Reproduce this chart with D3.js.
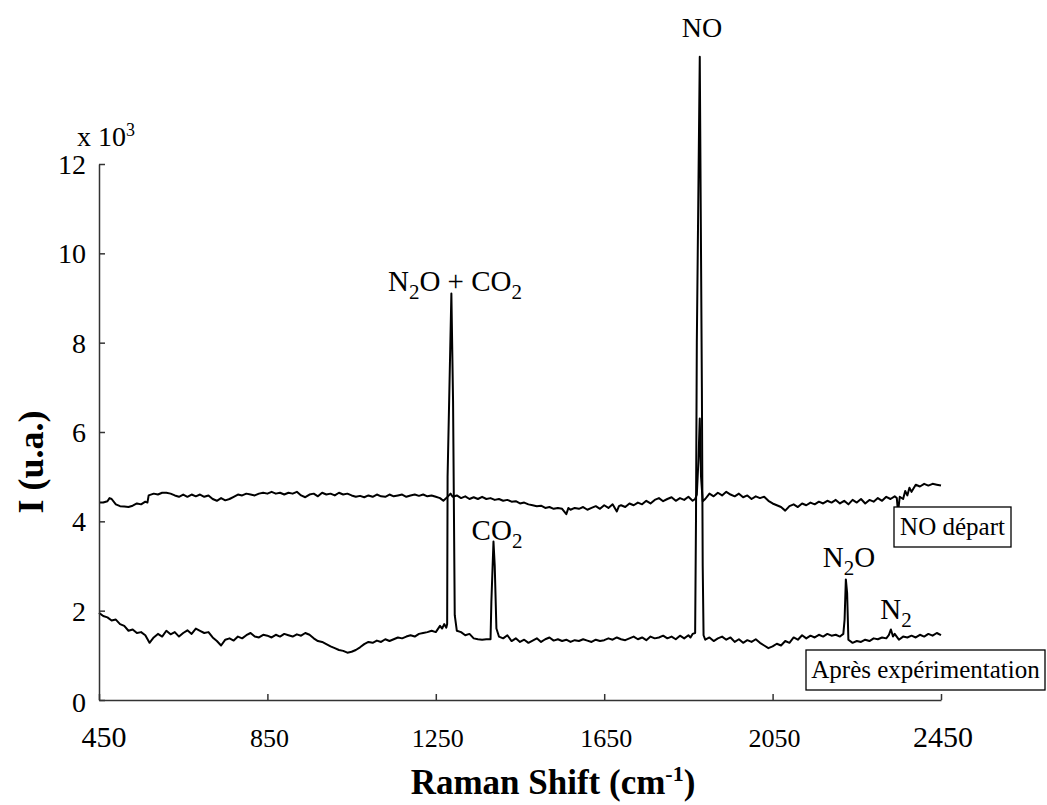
<!DOCTYPE html>
<html>
<head>
<meta charset="utf-8">
<script src="https://cdn.jsdelivr.net/npm/d3@7"></script>
<style>
  html, body { margin: 0; padding: 0; background: #fff; }
  svg { display: block; }
  text { font-family: "Liberation Serif", "Times New Roman", serif; fill: #000; }
</style>
</head>
<body>
<svg id="chart" width="1047" height="805"></svg>
<script>
// ---- Data ----
const xTicks = [450, 850, 1250, 1650, 2050, 2450];
const yTicks = [0, 2, 4, 6, 8, 10, 12];

// Spectrum "NO départ" (upper trace): Raman shift (cm-1) and intensity (x 10^3)
const departShift = [450,460,470,475,480,490,500,510,520,530,540,550,560,565,568,580,590,600,610,620,630,640,650,660,670,680,690,700,710,720,730,740,750,760,770,780,790,800,810,820,830,840,850,860,870,880,890,900,910,920,930,940,950,960,970,980,990,1000,1010,1020,1030,1040,1050,1060,1070,1080,1090,1100,1110,1120,1130,1140,1150,1160,1170,1180,1190,1200,1210,1220,1230,1240,1250,1260,1268,1275,1285,1290,1300,1310,1320,1330,1340,1350,1360,1370,1380,1390,1400,1410,1420,1430,1440,1450,1460,1470,1480,1490,1500,1510,1520,1530,1540,1550,1560,1565,1570,1580,1590,1600,1610,1620,1630,1640,1650,1660,1670,1680,1685,1690,1700,1710,1720,1730,1740,1750,1760,1770,1780,1790,1800,1810,1820,1830,1840,1850,1860,1866,1870,1874,1877,1880,1884,1890,1900,1910,1920,1930,1940,1950,1960,1970,1980,1990,2000,2010,2020,2030,2040,2050,2060,2070,2080,2090,2100,2110,2120,2130,2140,2150,2160,2170,2180,2190,2200,2210,2220,2230,2240,2250,2260,2270,2280,2290,2300,2310,2320,2330,2340,2345,2348,2352,2360,2365,2370,2375,2380,2390,2400,2410,2420,2430,2440,2450];
const departIntensity = [4.42,4.42,4.45,4.52,4.50,4.38,4.34,4.33,4.32,4.35,4.40,4.38,4.44,4.42,4.58,4.62,4.60,4.64,4.64,4.62,4.58,4.55,4.60,4.55,4.60,4.56,4.60,4.55,4.58,4.50,4.46,4.52,4.47,4.50,4.55,4.60,4.58,4.62,4.60,4.58,4.62,4.64,4.62,4.66,4.62,4.64,4.60,4.64,4.62,4.66,4.58,4.54,4.60,4.62,4.56,4.64,4.60,4.62,4.58,4.64,4.60,4.62,4.58,4.55,4.57,4.54,4.58,4.55,4.60,4.56,4.55,4.60,4.56,4.58,4.60,4.55,4.58,4.60,4.57,4.60,4.56,4.58,4.55,4.52,4.46,4.52,4.62,4.55,4.58,4.52,4.56,4.50,4.54,4.50,4.55,4.50,4.52,4.48,4.50,4.46,4.48,4.44,4.45,4.40,4.42,4.38,4.36,4.34,4.35,4.30,4.32,4.28,4.30,4.28,4.16,4.30,4.26,4.30,4.28,4.32,4.26,4.30,4.34,4.28,4.36,4.30,4.38,4.22,4.34,4.36,4.32,4.40,4.36,4.42,4.38,4.46,4.40,4.48,4.52,4.45,4.50,4.54,4.46,4.52,4.48,4.55,4.46,4.50,4.60,5.40,6.30,5.00,4.45,4.50,4.62,4.56,4.64,4.58,4.66,4.60,4.56,4.62,4.54,4.58,4.50,4.56,4.52,4.55,4.46,4.40,4.36,4.32,4.24,4.34,4.38,4.32,4.40,4.36,4.42,4.38,4.44,4.40,4.46,4.42,4.48,4.40,4.46,4.38,4.48,4.42,4.50,4.40,4.48,4.44,4.52,4.46,4.55,4.50,4.56,4.52,4.20,4.55,4.50,4.68,4.58,4.75,4.66,4.82,4.78,4.84,4.80,4.84,4.82,4.80];

// Spectrum "Après expérimentation" (lower trace)
const apresShift = [450,460,470,480,490,500,510,520,530,540,550,560,570,580,590,600,610,620,630,640,650,660,670,680,690,700,710,720,730,740,750,760,770,780,790,800,810,820,830,840,850,860,870,880,890,900,910,920,930,940,950,960,970,980,990,1000,1010,1020,1030,1040,1050,1060,1070,1080,1090,1100,1110,1120,1130,1140,1150,1160,1170,1180,1190,1200,1210,1220,1230,1240,1250,1260,1265,1270,1275,1277,1278,1287,1291,1295,1300,1310,1320,1330,1340,1350,1360,1370,1380,1382,1387,1390,1394,1400,1410,1420,1430,1440,1450,1460,1470,1480,1490,1500,1510,1520,1530,1540,1550,1560,1570,1580,1590,1600,1610,1620,1630,1640,1650,1660,1670,1680,1690,1700,1710,1720,1730,1740,1750,1760,1770,1780,1790,1800,1810,1820,1830,1840,1850,1855,1860,1866,1868,1870,1877,1882,1884,1886,1890,1900,1910,1920,1930,1940,1950,1960,1970,1980,1990,2000,2010,2020,2030,2040,2050,2060,2070,2080,2090,2100,2110,2120,2130,2140,2150,2160,2170,2180,2190,2200,2210,2218,2221,2224,2227,2230,2240,2250,2260,2270,2280,2290,2300,2310,2320,2326,2331,2336,2340,2350,2360,2370,2380,2390,2400,2410,2420,2430,2440,2450];
const apresIntensity = [1.95,1.88,1.85,1.78,1.80,1.70,1.66,1.55,1.58,1.50,1.52,1.45,1.28,1.40,1.48,1.42,1.55,1.47,1.52,1.42,1.50,1.56,1.48,1.60,1.55,1.50,1.52,1.40,1.32,1.22,1.35,1.38,1.33,1.42,1.38,1.45,1.50,1.42,1.40,1.46,1.44,1.40,1.46,1.42,1.48,1.45,1.42,1.47,1.44,1.50,1.46,1.38,1.32,1.30,1.25,1.20,1.16,1.12,1.10,1.06,1.08,1.12,1.18,1.25,1.30,1.28,1.33,1.30,1.36,1.32,1.36,1.40,1.38,1.42,1.45,1.42,1.48,1.50,1.52,1.55,1.52,1.66,1.60,1.70,1.62,1.70,5.00,9.10,6.70,1.90,1.55,1.52,1.45,1.48,1.38,1.36,1.35,1.36,1.36,2.20,3.55,3.00,1.60,1.42,1.38,1.45,1.32,1.38,1.30,1.35,1.28,1.33,1.38,1.30,1.36,1.40,1.33,1.36,1.32,1.35,1.30,1.34,1.32,1.36,1.33,1.30,1.35,1.32,1.34,1.38,1.35,1.40,1.36,1.34,1.38,1.42,1.36,1.40,1.34,1.42,1.38,1.40,1.44,1.38,1.42,1.36,1.44,1.38,1.45,1.40,1.48,1.50,4.00,8.00,14.40,7.00,3.00,1.45,1.35,1.40,1.32,1.38,1.42,1.35,1.40,1.30,1.36,1.28,1.34,1.30,1.36,1.28,1.22,1.16,1.20,1.26,1.22,1.32,1.28,1.40,1.35,1.45,1.38,1.44,1.40,1.46,1.42,1.48,1.44,1.46,1.42,1.48,1.80,2.70,2.40,1.35,1.28,1.32,1.30,1.35,1.32,1.38,1.36,1.40,1.38,1.45,1.58,1.42,1.48,1.35,1.42,1.40,1.44,1.40,1.46,1.42,1.48,1.44,1.50,1.45];

// ---- Drawing ----
const svg = d3.select("#chart");
const x = d3.scaleLinear().domain([450, 2450]).range([99, 941]);
const y = d3.scaleLinear().domain([0, 12]).range([700, 164]);

const line = d3.line().x(d => x(d[0])).y(d => y(d[1]));
const depart = departShift.map((s, i) => [s, departIntensity[i]]);
const apres = apresShift.map((s, i) => [s, apresIntensity[i]]);

[depart, apres].forEach(series => {
  svg.append("path").datum(series).attr("d", line)
    .attr("fill", "none").attr("stroke", "#000").attr("stroke-width", 2).attr("stroke-linejoin", "round");
});

// Axes
const xAxis = d3.axisBottom(x).tickValues(xTicks).tickSizeInner(-6).tickSizeOuter(0).tickFormat("");
const yAxis = d3.axisLeft(y).tickValues(yTicks).tickSizeInner(-6).tickSizeOuter(0).tickFormat("");
const gx = svg.append("g").attr("transform", "translate(0,700)").call(xAxis);
const gy = svg.append("g").attr("transform", "translate(99,0)").call(yAxis);
[gx, gy].forEach(g => {
  g.selectAll("path, line").attr("stroke", "#333").attr("stroke-width", 1.5);
});

// Tick labels
svg.selectAll(".xlab").data(xTicks).enter().append("text")
  .attr("x", d => x(d) + (d === 450 ? 5 : 2))
  .attr("y", 747)
  .attr("text-anchor", "middle")
  .style("font-size", (d, i) => (i === 0 || i === xTicks.length - 1) ? "30px" : "26px")
  .text(d => d);
svg.selectAll(".ylab").data(yTicks).enter().append("text")
  .attr("x", 86)
  .attr("y", d => y(d) + (d === 0 ? 12 : 10))
  .attr("text-anchor", "end")
  .style("font-size", "28px")
  .text(d => d);

// Multiplier
const mult = svg.append("text").attr("x", 77).attr("y", 146).style("font-size", "28px");
mult.append("tspan").text("x 10");
mult.append("tspan").attr("dy", -10).style("font-size", "18px").text("3");

// Axis titles
const xt = svg.append("text").attr("x", 553).attr("y", 794).attr("text-anchor", "middle")
  .style("font-size", "35px").style("font-weight", "bold");
xt.append("tspan").text("Raman Shift (cm");
xt.append("tspan").attr("dy", -13).style("font-size", "22px").text("-1");
xt.append("tspan").attr("dy", 13).text(")");

svg.append("text").attr("transform", "translate(43,462) rotate(-90)").attr("text-anchor", "middle")
  .style("font-size", "36px").style("font-weight", "bold").text("I (u.a.)");

// Peak labels: parts alternate normal text and subscripts
function chem(xp, yp, parts, size) {
  const t = svg.append("text").attr("x", xp).attr("y", yp).attr("text-anchor", "middle").style("font-size", size + "px");
  const shift = Math.round(size * 0.28);
  let offset = 0;
  parts.forEach(p => {
    const target = p.sub ? shift : 0;
    const ts = t.append("tspan").attr("dy", target - offset).text(p.t);
    if (p.sub) ts.style("font-size", Math.round(size * 0.72) + "px");
    offset = target;
  });
  return t;
}
chem(702, 37, [{t: "NO"}], 28);
chem(455, 291, [{t: "N"}, {t: "2", sub: true}, {t: "O + CO"}, {t: "2", sub: true}], 29);
chem(497, 540, [{t: "CO"}, {t: "2", sub: true}], 29);
chem(849, 567, [{t: "N"}, {t: "2", sub: true}, {t: "O"}], 29);
chem(896, 619, [{t: "N"}, {t: "2", sub: true}], 29);

// Legend boxes
function box(x0, y0, w, h, label, size) {
  svg.append("rect").attr("x", x0).attr("y", y0).attr("width", w).attr("height", h)
    .attr("fill", "#fff").attr("stroke", "#000").attr("stroke-width", 1.3);
  svg.append("text").attr("x", x0 + w / 2).attr("y", y0 + h / 2 + size * 0.33)
    .attr("text-anchor", "middle").style("font-size", size + "px").text(label);
}
box(894, 507, 117, 40, "NO départ", 25);
box(806, 650, 239, 40, "Après expérimentation", 25);
</script>
</body>
</html>
